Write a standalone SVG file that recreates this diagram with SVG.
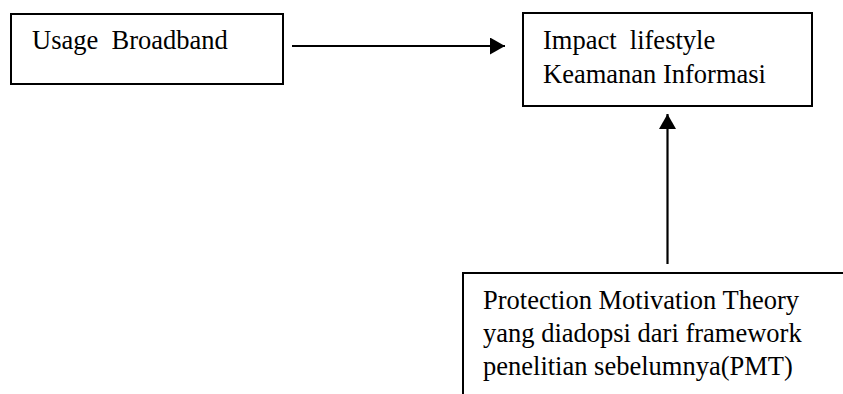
<svg xmlns="http://www.w3.org/2000/svg" width="843" height="394" viewBox="0 0 843 394">
  <style>
    .box { fill: #ffffff; stroke: #000000; stroke-width: 2; }
    .label { font-family: "Liberation Serif", "Times New Roman", serif; font-size: 26.5px; fill: #000000; }
    .wire { stroke: #000000; stroke-width: 2.2; fill: none; }
  </style>
  <defs>
    <marker id="head" markerUnits="userSpaceOnUse" markerWidth="16" markerHeight="18" refX="15" refY="8.5" orient="auto">
      <path d="M0,0 L15,8.5 L0,17 Z" fill="#000000"/>
    </marker>
  </defs>
  <rect width="843" height="394" fill="#ffffff"/>

  <g id="usage-broadband">
    <rect class="box" x="11" y="14" width="272" height="70"/>
    <text class="label" x="32" y="49" xml:space="preserve">Usage  Broadband</text>
  </g>

  <g id="impact-lifestyle">
    <rect class="box" x="523" y="13" width="289" height="93"/>
    <text class="label" x="543" y="49" xml:space="preserve">Impact  lifestyle</text>
    <text class="label" x="543" y="83">Keamanan Informasi</text>
  </g>

  <g id="pmt">
    <path class="box" d="M463,394 L463,273 L845,273" fill="none"/>
    <text class="label" x="483" y="309">Protection Motivation Theory</text>
    <text class="label" x="483" y="342">yang diadopsi dari framework</text>
    <text class="label" x="483" y="375">penelitian sebelumnya(PMT)</text>
  </g>

  <g id="connectors">
    <line class="wire" x1="292" y1="46" x2="505" y2="46" marker-end="url(#head)"/>
    <line class="wire" x1="667.5" y1="264" x2="667.5" y2="114" marker-end="url(#head)"/>
  </g>
</svg>
